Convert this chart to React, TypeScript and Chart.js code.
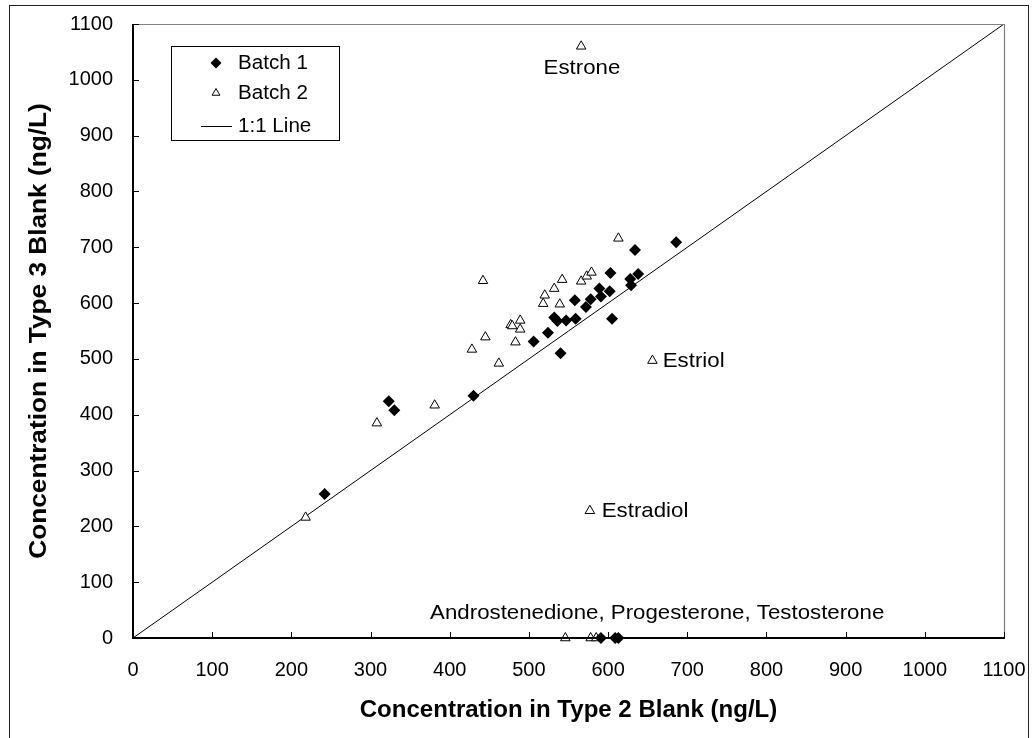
import { useEffect, useRef } from "react";
import { Chart, registerables } from "chart.js";
Chart.register(...registerables);

// Batch 1 (filled diamonds)
const batch1X = [242, 323, 330, 430, 506, 524, 532, 536, 547, 559, 540, 558, 572, 578, 591, 589, 602, 605, 603, 628, 629, 638, 634, 686, 591, 609, 613];
const batch1Y = [258, 424, 408, 434, 531, 547, 574, 568, 569, 572, 510, 605, 593, 607, 612, 626, 621, 572, 654, 643, 632, 652, 695, 709, 0, 0, 0];

// Batch 2 (open triangles)
const batch2X = [218, 308, 381, 428, 442, 445, 462, 477, 479, 483, 489, 489, 518, 520, 532, 539, 542, 566, 573, 579, 613, 566, 656, 577, 546, 578, 585];
const batch2Y = [216, 385, 417, 517, 640, 539, 492, 561, 559, 530, 569, 553, 599, 614, 626, 598, 642, 639, 648, 655, 716, 1060, 497, 228, 0, 0, 0];

// 1:1 line end points
const lineX = [0, 1100];
const lineY = [0, 1100];

// Axis
const axisMin = 0;
const axisMax = 1100;
const axisStep = 100;
const tickValues = [0, 100, 200, 300, 400, 500, 600, 700, 800, 900, 1000, 1100];

const xTitle = "Concentration in Type 2 Blank (ng/L)";
const yTitle = "Concentration in Type 3 Blank (ng/L)";

// Annotation labels: text, anchor x, anchor y (data units), alignment
const noteText = ["Estrone", "Estriol", "Estradiol", "Androstenedione, Progesterone, Testosterone"];
const noteX = [567, 669, 592, 662];
const noteY = [1021, 496, 228, 45];
const noteAlign: CanvasTextAlign[] = ["center", "left", "left", "center"];

const legendLabels = ["Batch 1", "Batch 2", "1:1 Line"];

const FONT = "'Liberation Sans', Arial, sans-serif";

function toPoints(xs: number[], ys: number[]) {
  return xs.map((x, i) => ({ x, y: ys[i] }));
}

function stretchedText(ctx: CanvasRenderingContext2D, text: string, x: number, y: number, sx: number, align: CanvasTextAlign) {
  ctx.save();
  ctx.translate(x, y);
  ctx.scale(sx, 1);
  ctx.textAlign = align;
  ctx.fillText(text, 0, 0);
  ctx.restore();
}

const decorPlugin = {
  id: "decor",
  afterDraw(chart: any) {
    const ctx: CanvasRenderingContext2D = chart.ctx;
    const area = chart.chartArea;
    const xs = chart.scales.x;
    const ys = chart.scales.y;
    ctx.save();

    // outer frame
    ctx.strokeStyle = "#222";
    ctx.lineWidth = 1;
    ctx.strokeRect(9.5, 5.5, 1019, 740);

    // plot border: top/right gray
    ctx.strokeStyle = "#808080";
    ctx.lineWidth = 1.2;
    ctx.beginPath();
    ctx.moveTo(area.left, area.top + 0.5);
    ctx.lineTo(area.right + 0.5, area.top + 0.5);
    ctx.lineTo(area.right + 0.5, area.bottom);
    ctx.stroke();

    // axes: left/bottom black
    ctx.strokeStyle = "#000";
    ctx.lineWidth = 2;
    ctx.beginPath();
    ctx.moveTo(area.left, area.top);
    ctx.lineTo(area.left, area.bottom);
    ctx.lineTo(area.right + 1, area.bottom);
    ctx.stroke();

    // inner tick marks
    ctx.lineWidth = 1;
    ctx.beginPath();
    for (const v of tickValues) {
      const px = Math.round(xs.getPixelForValue(v)) + 0.5;
      ctx.moveTo(px, area.bottom);
      ctx.lineTo(px, area.bottom - 6);
      const py = Math.round(ys.getPixelForValue(v)) + 0.5;
      ctx.moveTo(area.left, py);
      ctx.lineTo(area.left + 6, py);
    }
    ctx.stroke();

    // tick labels
    ctx.fillStyle = "#000";
    ctx.font = `20px ${FONT}`;
    ctx.textBaseline = "middle";
    for (const v of tickValues) {
      ctx.textAlign = "center";
      ctx.fillText(String(v), xs.getPixelForValue(v), 670);
      ctx.textAlign = "right";
      ctx.fillText(String(v), area.left - 20, ys.getPixelForValue(v));
    }

    // axis titles
    ctx.font = `bold 23px ${FONT}`;
    ctx.textBaseline = "middle";
    stretchedText(ctx, xTitle, (area.left + area.right) / 2, 711, 1.045, "center");
    ctx.save();
    ctx.translate(40, (area.top + area.bottom) / 2);
    ctx.rotate(-Math.PI / 2);
    ctx.scale(1.14, 1);
    ctx.textAlign = "center";
    ctx.fillText(yTitle, 0, 0);
    ctx.restore();

    // annotations
    ctx.font = `21px ${FONT}`;
    ctx.textBaseline = "middle";
    for (let i = 0; i < noteText.length; i++) {
      stretchedText(ctx, noteText[i], xs.getPixelForValue(noteX[i]), ys.getPixelForValue(noteY[i]), 1.06, noteAlign[i]);
    }

    // legend
    const lx = 171.5, ly = 46.5, lw = 168, lh = 94;
    ctx.fillStyle = "#fff";
    ctx.fillRect(lx, ly, lw, lh);
    ctx.strokeStyle = "#000";
    ctx.lineWidth = 1;
    ctx.strokeRect(lx, ly, lw, lh);
    ctx.fillStyle = "#000";
    ctx.font = `20px ${FONT}`;
    ctx.textAlign = "left";
    const rows = [63, 93, 126];
    const dx = 216;
    ctx.beginPath();
    ctx.moveTo(dx, rows[0] - 5.5);
    ctx.lineTo(dx + 5.5, rows[0]);
    ctx.lineTo(dx, rows[0] + 5.5);
    ctx.lineTo(dx - 5.5, rows[0]);
    ctx.closePath();
    ctx.fill();
    const r = 4.5;
    ctx.beginPath();
    ctx.moveTo(dx, rows[1] - r);
    ctx.lineTo(dx + r * 0.866, rows[1] + r / 2);
    ctx.lineTo(dx - r * 0.866, rows[1] + r / 2);
    ctx.closePath();
    ctx.fillStyle = "#fff";
    ctx.fill();
    ctx.stroke();
    ctx.fillStyle = "#000";
    ctx.beginPath();
    ctx.moveTo(201, rows[2] + 0.5);
    ctx.lineTo(232, rows[2] + 0.5);
    ctx.stroke();
    for (let i = 0; i < legendLabels.length; i++) {
      stretchedText(ctx, legendLabels[i], 238, rows[i], 1.03, "left");
    }

    ctx.restore();
  },
};

export default function App() {
  const ref = useRef<HTMLCanvasElement | null>(null);
  useEffect(() => {
    if (!ref.current) return;
    Chart.defaults.font.family = FONT;
    Chart.defaults.color = "#000";
    const chart = new Chart(ref.current, {
      type: "scatter",
      data: {
        datasets: [
          {
            label: "Batch 1",
            data: toPoints(batch1X, batch1Y),
            pointStyle: "rectRot",
            pointRadius: 6,
            pointBackgroundColor: "#000",
            pointBorderColor: "#000",
            pointBorderWidth: 0,
            clip: false as any,
            order: 1,
          },
          {
            label: "Batch 2",
            data: toPoints(batch2X, batch2Y),
            pointStyle: "triangle",
            pointRadius: 5.5,
            pointBackgroundColor: "#fff",
            pointBorderColor: "#000",
            pointBorderWidth: 1,
            clip: false as any,
            order: 2,
          },
          {
            label: "1:1 Line",
            type: "line" as any,
            data: toPoints(lineX, lineY),
            borderColor: "#000",
            borderWidth: 1,
            pointRadius: 0,
            fill: false,
            order: 3,
          } as any,
        ],
      },
      options: {
        responsive: false,
        animation: false,
        layout: { padding: { left: 0, top: 24, right: 28, bottom: 0 } },
        plugins: { legend: { display: false }, tooltip: { enabled: false } },
        scales: {
          x: {
            type: "linear",
            min: axisMin,
            max: axisMax,
            grid: { display: false },
            border: { display: false },
            ticks: { display: false, stepSize: axisStep },
            afterFit: (s: any) => { s.height = 100; },
          },
          y: {
            type: "linear",
            min: axisMin,
            max: axisMax,
            grid: { display: false },
            border: { display: false },
            ticks: { display: false, stepSize: axisStep },
            afterFit: (s: any) => { s.width = 133; },
          },
        },
      },
      plugins: [decorPlugin],
    });
    return () => chart.destroy();
  }, []);
  return (
    <div style={{ position: "fixed", left: 0, top: 0, width: 1032, height: 738, background: "#fff" }}>
      <canvas ref={ref} width={1032} height={738} style={{ display: "block" }} />
    </div>
  );
}
